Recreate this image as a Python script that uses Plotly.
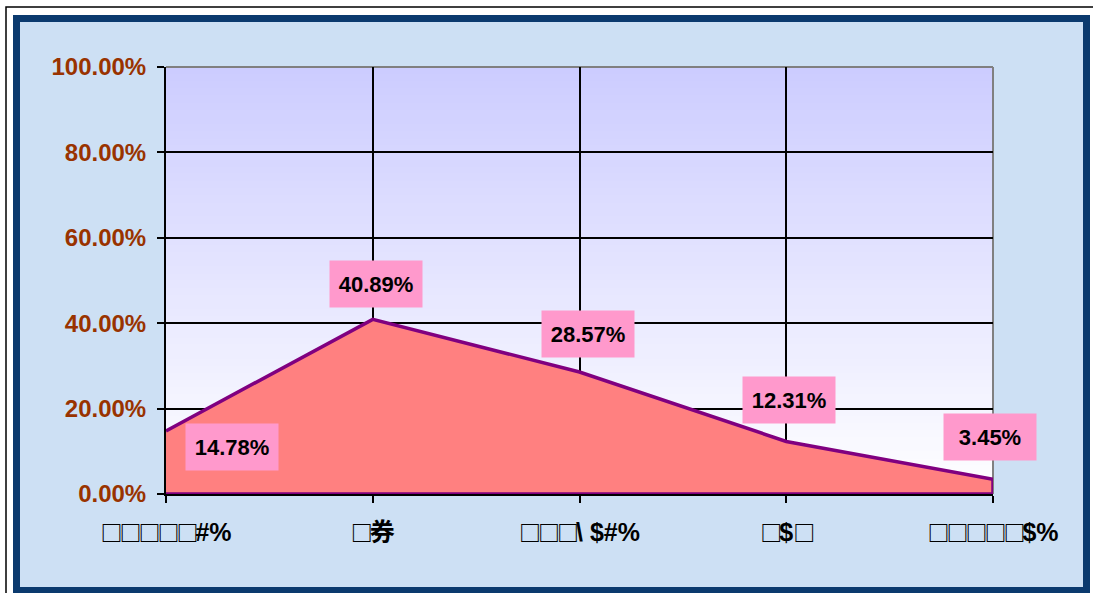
import plotly.graph_objects as go

# Category labels (as rendered) and share values in percent
categories = ["□□□□□#%", "□券", "□□□\\ $#%", "□$□", "□□□□□$%"]
shares = [14.78, 40.89, 28.57, 12.31, 3.45]
y_ticks = [0, 20, 40, 60, 80, 100]
y_tick_text = ["%.2f%%" % v for v in y_ticks]

W, H = 1093, 593
L, R, T, B = 166, 100, 67, 99
PW, PH = W - L - R, H - T - B


def px_x(px):
    return (px - L) / PW


def px_y(py):
    return (H - B - py) / PH


def box_glyphs(label):
    # draw the placeholder squares with a CJK font, packed tightly
    span = ("<span style=\"font-family:'Noto Sans CJK SC';font-size:22px;"
            "letter-spacing:-3px\">□</span>")
    return label.replace("□", span)


x_idx = list(range(len(categories)))

fig = go.Figure()

# Area with a closed outline, as in a spreadsheet area chart
fig.add_trace(go.Scatter(
    x=x_idx + [x_idx[-1], x_idx[0]],
    y=shares + [0, 0],
    fill="toself",
    fillcolor="#FF8080",
    line=dict(color="#800080", width=3.5),
    mode="lines",
    hoverinfo="skip",
    showlegend=False,
))

shapes = []
# Outer thin frame
shapes.append(dict(type="rect", xref="paper", yref="paper",
                   x0=px_x(6), x1=px_x(W + 5), y0=px_y(H + 5), y1=px_y(7),
                   line=dict(color="black", width=1.5), fillcolor="white", layer="below"))
# Navy border
shapes.append(dict(type="rect", xref="paper", yref="paper",
                   x0=px_x(13), x1=px_x(1090), y0=px_y(H + 10), y1=px_y(15),
                   line=dict(width=0), fillcolor="#0B3A6E", layer="below"))
# Light chart area
shapes.append(dict(type="rect", xref="paper", yref="paper",
                   x0=px_x(20), x1=px_x(1083), y0=px_y(587), y1=px_y(22),
                   line=dict(width=0), fillcolor="#CDE0F4", layer="below"))
# Plot area gradient: lavender at the top fading to white
n = 60
top = (204, 204, 255)
bot = (255, 255, 255)
for i in range(n):
    t = (i + 0.5) / n
    c = tuple(round(bot[k] + (top[k] - bot[k]) * t) for k in range(3))
    shapes.append(dict(type="rect", xref="paper", yref="paper",
                       x0=0, x1=1, y0=i / n, y1=(i + 1) / n + 0.002,
                       line=dict(width=0), fillcolor="rgb(%d,%d,%d)" % c, layer="below"))
# Grey top and right plot-area edges
shapes.append(dict(type="line", xref="paper", yref="paper", x0=0, x1=1, y0=1, y1=1,
                   line=dict(color="#808080", width=2), layer="between"))
shapes.append(dict(type="line", xref="paper", yref="paper", x0=1, x1=1, y0=0, y1=1,
                   line=dict(color="#808080", width=2), layer="between"))

# Data labels in pink boxes
label_shift = [(66, -16), (3, 35), (8, 38), (3, 41), (-3, 42)]
annotations = []
for i, v in enumerate(shares):
    dx, dy = label_shift[i]
    annotations.append(dict(
        x=x_idx[i], y=v, xref="x", yref="y",
        text="%.2f%%" % v, showarrow=False,
        xshift=dx, yshift=dy, width=90, height=44,
        bgcolor="#FF99CC",
        font=dict(family="Arial, Liberation Sans, sans-serif", size=22, color="black", weight="bold"),
    ))

fig.update_layout(
    width=W, height=H, autosize=False,
    margin=dict(l=L, r=R, t=T, b=B, pad=0),
    paper_bgcolor="white",
    plot_bgcolor="rgba(0,0,0,0)",
    shapes=shapes,
    annotations=annotations,
    xaxis=dict(
        range=[0, len(categories) - 1],
        tickvals=x_idx, ticktext=[box_glyphs(c) for c in categories],
        showgrid=True, gridcolor="black", gridwidth=1.5,
        showline=True, linecolor="black", linewidth=2,
        ticks="outside", ticklen=7, tickwidth=2, tickcolor="black",
        tickfont=dict(family="Arial, Liberation Sans, Noto Sans CJK SC, sans-serif", size=25,
                      color="black", weight="bold"),
        ticklabelstandoff=8,
        zeroline=False, fixedrange=True,
    ),
    yaxis=dict(
        range=[0, 100],
        tickvals=y_ticks, ticktext=y_tick_text,
        showgrid=True, gridcolor="black", gridwidth=1.5,
        showline=True, linecolor="black", linewidth=2,
        ticks="outside", ticklen=7, tickwidth=2, tickcolor="black",
        tickfont=dict(family="Arial, Liberation Sans, sans-serif", size=24,
                      color="#993300", weight="bold"),
        ticklabelstandoff=6,
        zeroline=False, fixedrange=True,
    ),
)

fig.write_html("out.html")
